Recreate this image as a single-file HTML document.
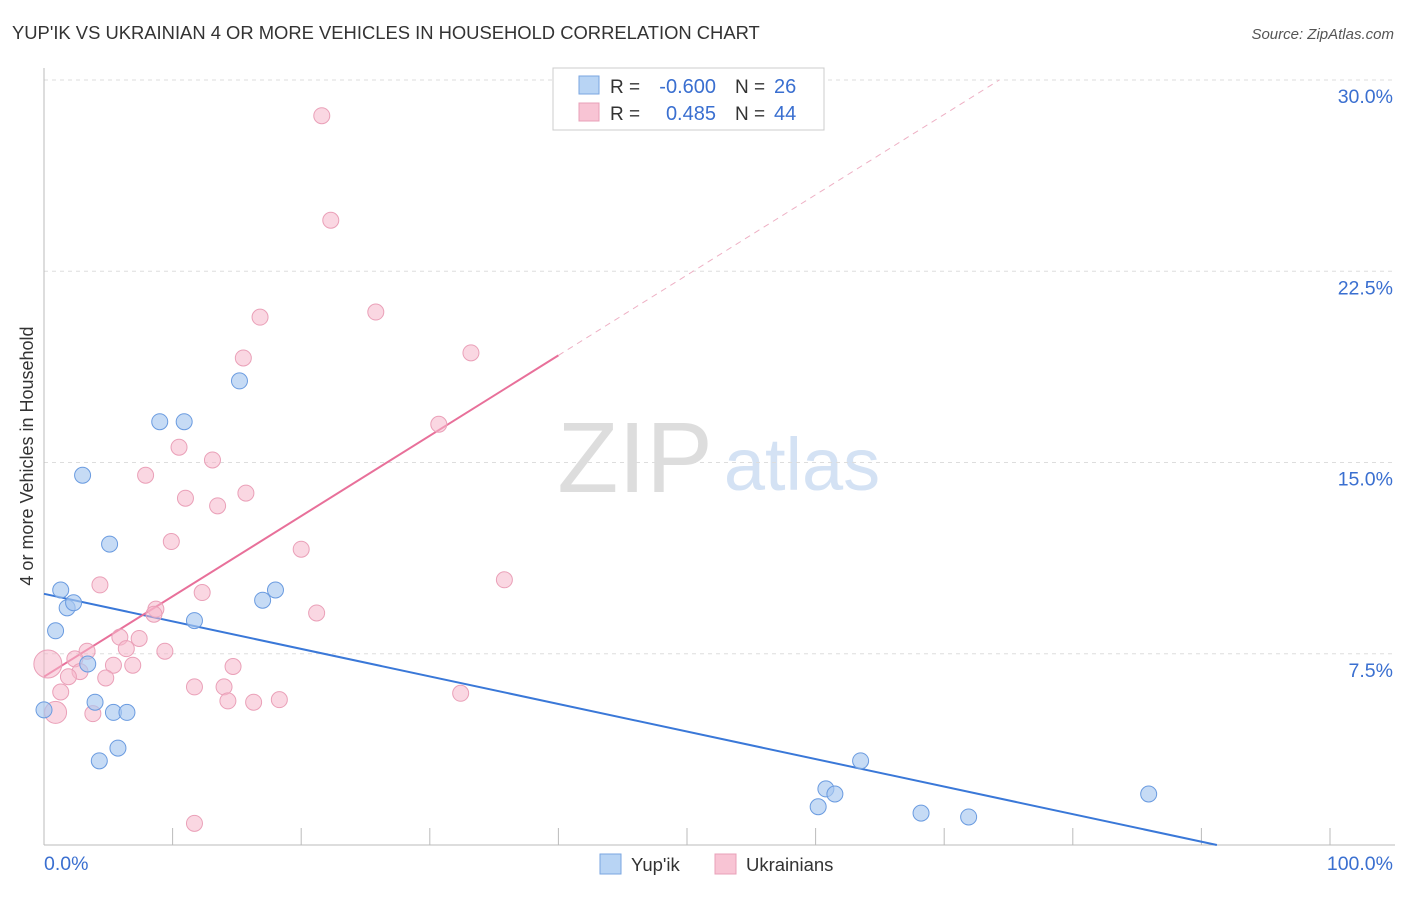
<!DOCTYPE html>
<html><head><meta charset="utf-8"><style>
body{margin:0;background:#fff;font-family:"Liberation Sans",sans-serif;}
svg text{font-family:"Liberation Sans",sans-serif;}
</style></head><body>
<svg id="c" width="1406" height="892" xmlns="http://www.w3.org/2000/svg">
<text x="12" y="39" font-size="18.4" fill="#333">YUP'IK VS UKRAINIAN 4 OR MORE VEHICLES IN HOUSEHOLD CORRELATION CHART</text>
<text x="1394" y="39" font-size="15" fill="#555" text-anchor="end" font-style="italic">Source: ZipAtlas.com</text>
<text transform="translate(33,456) rotate(-90)" font-size="18" fill="#333" text-anchor="middle">4 or more Vehicles in Household</text>
<g><text x="635" y="492" font-size="100" fill="#ddd" text-anchor="middle" font-family="Liberation Serif">ZIP</text><text x="802" y="490" font-size="74" fill="#d4e2f4" text-anchor="middle">atlas</text></g>
<g id="grid"></g><g id="axes"></g><g id="lines"></g><g id="pts"></g>
<g>
<rect x="553" y="68" width="271" height="62" fill="#fff" stroke="#ccc"/>
<rect x="579" y="76" width="20" height="18" fill="#b8d4f4" stroke="#7aa6e0"/>
<rect x="579" y="103" width="20" height="18" fill="#f8c4d4" stroke="#e8a0b8"/>
<text x="610" y="93" font-size="19" fill="#333">R =</text>
<text x="716" y="93" font-size="20" fill="#3a6fd0" text-anchor="end">-0.600</text>
<text x="735" y="93" font-size="19" fill="#333">N =</text>
<text x="774" y="93" font-size="20" fill="#3a6fd0">26</text>
<text x="610" y="120" font-size="19" fill="#333">R =</text>
<text x="716" y="120" font-size="20" fill="#3a6fd0" text-anchor="end">0.485</text>
<text x="735" y="120" font-size="19" fill="#333">N =</text>
<text x="774" y="120" font-size="20" fill="#3a6fd0">44</text>
</g>
<g>
<rect x="600" y="854" width="21" height="20" fill="#b8d4f4" stroke="#7aa6e0"/>
<text x="631" y="871" font-size="18.5" fill="#333">Yup'ik</text>
<rect x="715" y="854" width="21" height="20" fill="#f8c4d4" stroke="#e8a0b8"/>
<text x="746" y="871" font-size="18.5" fill="#333">Ukrainians</text>
</g>
</svg>
<script>
const blueX=[0,0.9,1.3,1.8,2.3,3.0,3.4,3.97,4.3,5.1,5.4,5.75,6.45,9.0,10.9,11.7,15.2,17.0,18.0,60.8,61.5,60.2,63.5,68.2,71.9,85.9];
const blueY=[5.3,8.4,10.0,9.3,9.5,14.5,7.1,5.6,3.3,11.8,5.2,3.8,5.2,16.6,16.6,8.8,18.2,9.6,10.0,2.2,2.0,1.5,3.3,1.25,1.1,2.0];
const pinkX=[21.6,22.3,25.8,16.8,15.5,33.2,30.7,10.5,13.1,7.9,11.0,15.7,13.5,9.9,20.0,35.8,4.35,12.3,8.7,8.55,21.2,7.4,5.9,6.4,3.35,9.4,2.4,0.3,5.4,6.9,14.7,2.8,1.9,4.8,11.7,14.0,1.3,32.4,14.3,16.3,18.3,3.8,0.9,11.7];
const pinkY=[28.6,24.5,20.9,20.7,19.1,19.3,16.5,15.6,15.1,14.5,13.6,13.8,13.3,11.9,11.6,10.4,10.2,9.9,9.25,9.05,9.1,8.1,8.15,7.7,7.6,7.6,7.3,7.1,7.05,7.05,7.0,6.8,6.6,6.55,6.2,6.2,6.0,5.95,5.65,5.6,5.7,5.15,5.2,0.85];
const pinkR=[8,8,8,8,8,8,8,8,8,8,8,8,8,8,8,8,8,8,8,8,8,8,8,8,8,8,8,14,8,8,8,8,8,8,8,8,8,8,8,8,8,8,11,8];
const yTicks=[7.5,15.0,22.5,30.0];
const blueFit=[9.85,-0.108];
const pinkFit=[6.6,0.315];
const X=v=>44+v*12.86, Y=v=>845-v*25.5;
const NS="http://www.w3.org/2000/svg";
function mk(t,a,p){const e=document.createElementNS(NS,t);for(const k in a)e.setAttribute(k,a[k]);document.getElementById(p).appendChild(e);return e;}
yTicks.forEach(t=>{
 const l=mk('line',{x1:44,x2:1395,y1:Y(t),y2:Y(t),stroke:'#ddd','stroke-dasharray':'4,4'},'grid');
 
 
 const tx=mk('text',{x:1393,y:Y(t)+23,'font-size':19.5,fill:'#3a6fd0','text-anchor':'end'},'grid');tx.textContent=t.toFixed(1)+'%';
 
 
});
mk('line',{x1:44,x2:44,y1:68,y2:845,stroke:'#bbb'},'axes');
mk('line',{x1:44,x2:1395,y1:845,y2:845,stroke:'#bbb'},'axes');
for(let i=1;i<=10;i++){const t=mk('line',{x1:X(i*10),x2:X(i*10),y1:828,y2:845,stroke:'#bbb'},'axes');
 
 }
let a=mk('text',{x:44,y:870,'font-size':19.5,fill:'#3a6fd0'},'axes');a.textContent='0.0%';


a=mk('text',{x:1393,y:870,'font-size':19.5,fill:'#3a6fd0','text-anchor':'end'},'axes');a.textContent='100.0%';


const bEnd=-blueFit[0]/blueFit[1];
let ln=mk('line',{x1:X(0),y1:Y(blueFit[0]),x2:X(bEnd),y2:Y(0),stroke:'#3a78d8','stroke-width':2},'lines');


ln=mk('line',{x1:X(0),y1:Y(pinkFit[0]),x2:X(40),y2:Y(pinkFit[0]+40*pinkFit[1]),stroke:'#e8709a','stroke-width':2},'lines');


const pEnd=(30-pinkFit[0])/pinkFit[1];
ln=mk('line',{x1:X(40),y1:Y(pinkFit[0]+40*pinkFit[1]),x2:X(pEnd),y2:Y(30),stroke:'#eeb0c4','stroke-width':1,'stroke-dasharray':'6,5'},'lines');


pinkX.forEach((v,i)=>{const c=mk('circle',{cx:X(v),cy:Y(pinkY[i]),r:pinkR[i],fill:'rgba(246,182,202,0.55)',stroke:'#eaa0b8','stroke-width':1},'pts');
 
 });
blueX.forEach((v,i)=>{const c=mk('circle',{cx:X(v),cy:Y(blueY[i]),r:8,fill:'rgba(168,200,240,0.65)',stroke:'#6a9be0','stroke-width':1},'pts');
 
 });
</script>
</body></html>
